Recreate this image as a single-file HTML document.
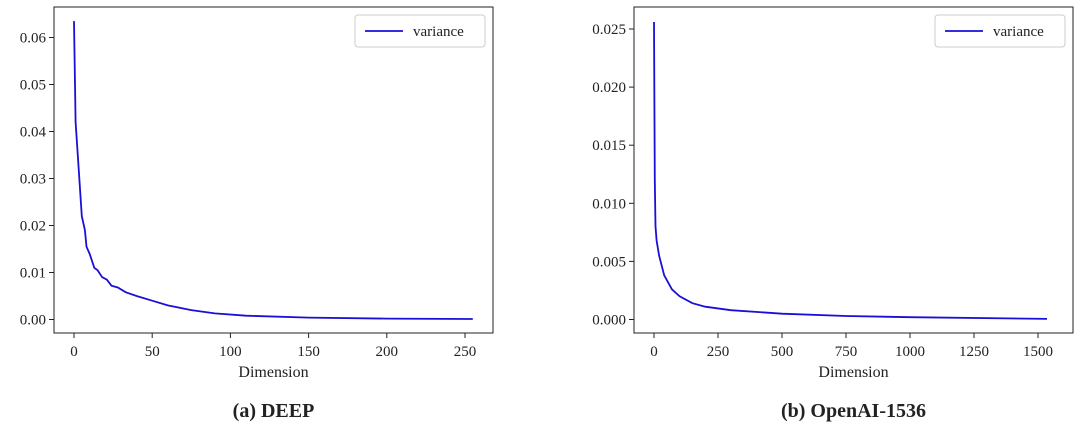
<!DOCTYPE html>
<html><head><meta charset="utf-8"><style>
body{margin:0;background:#fff;width:1080px;height:427px;overflow:hidden}
svg text{font-family:"Liberation Serif",serif;fill:#222}
</style></head><body>
<svg id="s" width="1080" height="427"></svg>
<script>
const deepX=[0,1,3,5,7,8,10,13,15,18,21,24,28,33,40,50,60,75,90,110,150,200,255];
const deepY=[0.0635,0.042,0.032,0.022,0.019,0.0155,0.014,0.011,0.0105,0.009,0.0085,0.0072,0.0068,0.0058,0.005,0.004,0.003,0.002,0.0013,0.0008,0.0004,0.0002,0.0001];
const deepXTicks=[0,50,100,150,200,250];
const deepYTicks=[0,0.01,0.02,0.03,0.04,0.05,0.06];
const oaX=[0,3,6,10,20,40,70,100,150,200,300,500,750,1000,1535];
const oaY=[0.0256,0.012,0.008,0.0068,0.0055,0.0038,0.0026,0.002,0.0014,0.0011,0.0008,0.0005,0.0003,0.0002,0.00005];
const oaXTicks=[0,250,500,750,1000,1250,1500];
const oaYTicks=[0,0.005,0.01,0.015,0.02,0.025];
const NS="http://www.w3.org/2000/svg",svg=document.getElementById('s');
function el(t,a,p){const e=document.createElementNS(NS,t);for(const k in a)e.setAttribute(k,a[k]);(p||svg).appendChild(e);return e;}
function chart(o){
 const g=el('g',{});
 
 
 const sx=v=>o.x0px+(v-0)*(o.x1px-o.x0px)/o.xr, sy=v=>o.y0px-(v)*(o.y0px-o.y1px)/o.yr;
 const box=el('rect',{x:o.L,y:7,width:o.W,height:326,fill:'none',stroke:'#222','stroke-width':1},g);
 
 o.xt.forEach(v=>{const x=sx(v);el('line',{x1:x,x2:x,y1:333,y2:338,stroke:'#222'},g);
  const t=el('text',{x:x,y:356,'text-anchor':'middle','font-size':15},g);t.textContent=v;
  });
 o.yt.forEach(v=>{const y=sy(v);el('line',{x1:o.L-5,x2:o.L,y1:y,y2:y,stroke:'#222'},g);
  const t=el('text',{x:o.L-8,y:y+5,'text-anchor':'end','font-size':15},g);t.textContent=v.toFixed(o.dec);
  });
 const xl=el('text',{x:o.L+o.W/2,y:377,'text-anchor':'middle','font-size':16},g);xl.textContent='Dimension';
 
 const p=el('path',{d:o.xs.map((v,i)=>(i?'L':'M')+sx(v).toFixed(1)+','+sy(o.ys[i]).toFixed(1)).join(''),fill:'none',stroke:'#1a0fd6','stroke-width':1.8},g);
 
 const lx=o.L+o.W-138;
 const lg=el('g',{},g);
 el('rect',{x:lx,y:15,width:130,height:32,rx:3,fill:'#fff',stroke:'#ccc'},lg);
 el('line',{x1:lx+10,x2:lx+48,y1:31,y2:31,stroke:'#1a0fd6','stroke-width':1.8},lg);
 const lt=el('text',{x:lx+58,y:36,'font-size':15},lg);lt.textContent='variance';
 const ti=el('text',{x:o.L+o.W/2,y:417,'text-anchor':'middle','font-size':20,'font-weight':'bold'},g);ti.textContent=o.title;
 
}
chart({name:'deep-chart',L:54,W:439,x0px:74,x1px:465,xr:250,y0px:319.5,y1px:37.5,yr:0.06,xs:deepX,ys:deepY,xt:deepXTicks,yt:deepYTicks,dec:2,title:'(a) DEEP'});
chart({name:'openai-chart',L:634,W:439,x0px:654,x1px:1038,xr:1500,y0px:319.5,y1px:29,yr:0.025,xs:oaX,ys:oaY,xt:oaXTicks,yt:oaYTicks,dec:3,title:'(b) OpenAI-1536'});
</script>
</body></html>
